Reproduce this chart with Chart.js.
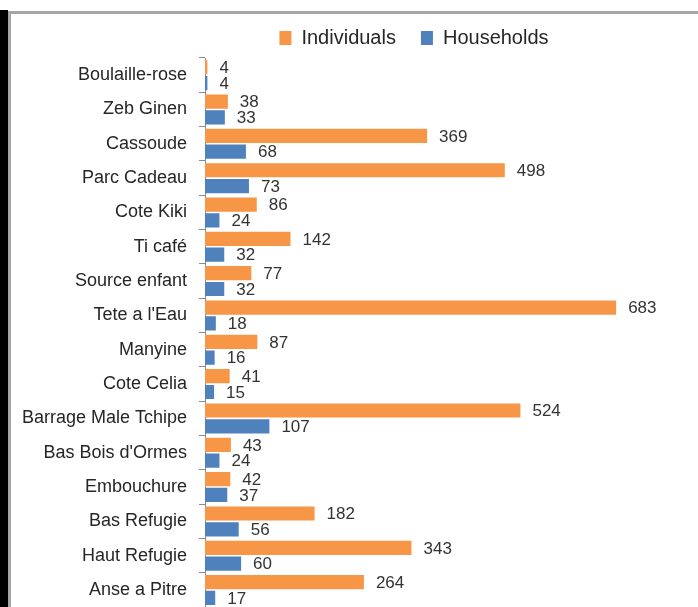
<!DOCTYPE html>
<html>
<head>
<meta charset="utf-8">
<script src="https://cdn.jsdelivr.net/npm/chart.js@4"></script>
<style>
  html, body { margin: 0; padding: 0; background: #fff; overflow: hidden; width: 698px; height: 607px; }
  .edge { position: absolute; left: 0; top: 10px; width: 8px; height: 600px; background: #000; }
  .frame { position: absolute; left: 8px; top: 11px; width: 800px; height: 700px;
           border-left: 3px solid #a6a6a6; border-top: 3px solid #a6a6a6; }
  #wrap { position: absolute; left: 9px; top: -3px; }
</style>
</head>
<body>
<div class="edge"></div>
<div class="frame"></div>
<div id="wrap"><canvas id="chart" width="810" height="633"></canvas></div>
<script>
const places = [
  'Boulaille-rose', 'Zeb Ginen', 'Cassoude', 'Parc Cadeau', 'Cote Kiki', 'Ti café',
  'Source enfant', "Tete a l'Eau", 'Manyine', 'Cote Celia', 'Barrage Male Tchipe',
  "Bas Bois d'Ormes", 'Embouchure', 'Bas Refugie', 'Haut Refugie', 'Anse a Pitre'
];
const individuals = [4, 38, 369, 498, 86, 142, 77, 683, 87, 41, 524, 43, 42, 182, 343, 264];
const households = [4, 33, 68, 73, 24, 32, 32, 18, 16, 15, 107, 24, 37, 56, 60, 17];

const FONT = "'Liberation Sans', Arial, sans-serif";

// writes each bar's value just past its end
const valueLabels = {
  id: 'valueLabels',
  afterDatasetsDraw(chart) {
    const ctx = chart.ctx;
    ctx.save();
    ctx.font = '17px ' + FONT;
    ctx.fillStyle = '#333333';
    ctx.textAlign = 'left';
    ctx.textBaseline = 'middle';
    chart.data.datasets.forEach((ds, i) => {
      chart.getDatasetMeta(i).data.forEach((bar, j) => {
        ctx.fillText(String(ds.data[j]), bar.x + 12, bar.y + 1);
      });
    });
    ctx.restore();
  }
};

new Chart(document.getElementById('chart'), {
  type: 'bar',
  data: {
    labels: places,
    datasets: [
      {
        label: 'Individuals',
        data: individuals,
        backgroundColor: '#F79646',
        categoryPercentage: 0.92,
        barPercentage: 0.9
      },
      {
        label: 'Households',
        data: households,
        backgroundColor: '#4F81BD',
        categoryPercentage: 0.92,
        barPercentage: 0.9
      }
    ]
  },
  options: {
    indexAxis: 'y',
    responsive: false,
    animation: false,
    devicePixelRatio: 1,
    layout: { padding: { top: 6, right: 0, bottom: 0, left: 0 } },
    scales: {
      x: {
        display: false,
        min: 0,
        max: 1020
      },
      y: {
        grid: { drawOnChartArea: false, drawTicks: true, tickLength: 6, color: '#8c8c8c' },
        border: { display: true, color: '#8c8c8c' },
        ticks: {
          color: '#262626',
          padding: 12,
          font: { family: FONT, size: 18 }
        },
        afterFit(scale) { scale.width = 196; }
      }
    },
    plugins: {
      legend: {
        position: 'top',
        labels: {
          boxWidth: 12,
          boxHeight: 14,
          padding: 25,
          color: '#262626',
          font: { family: FONT, size: 20 }
        }
      },
      tooltip: { enabled: false }
    }
  },
  plugins: [valueLabels]
});
</script>
</body>
</html>
